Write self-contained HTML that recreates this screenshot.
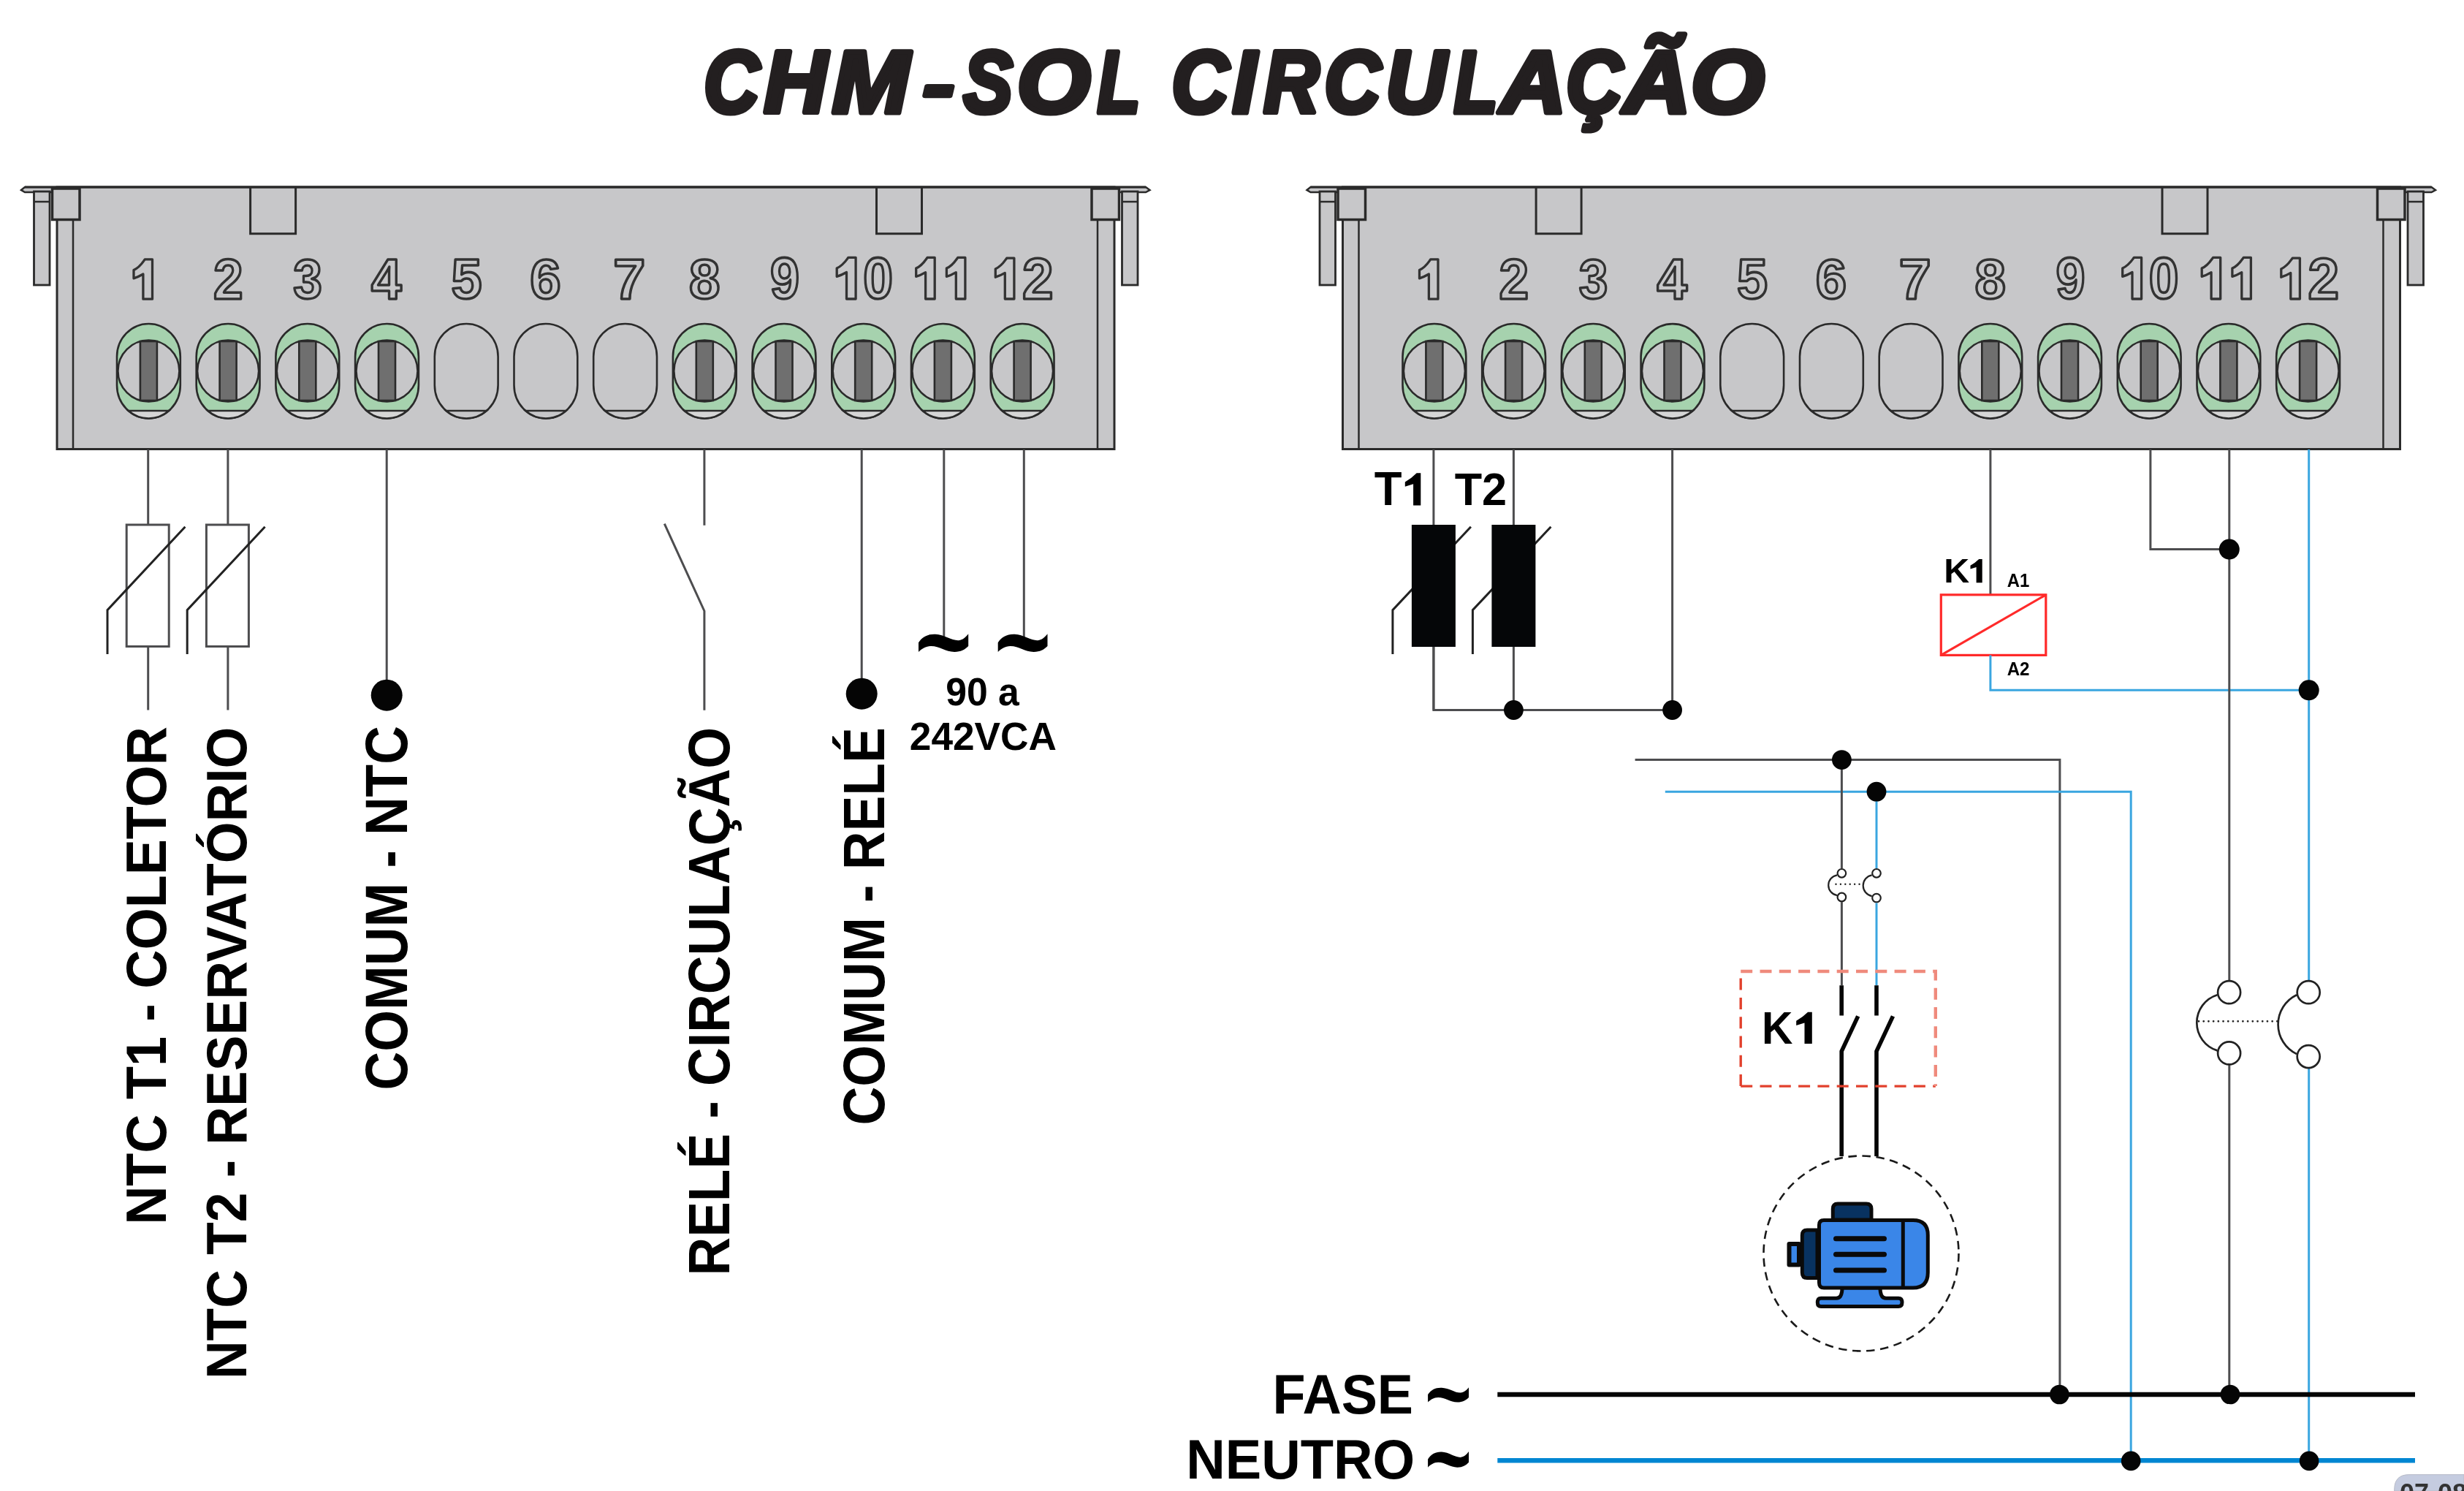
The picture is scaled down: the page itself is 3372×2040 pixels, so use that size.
<!DOCTYPE html>
<html><head><meta charset="utf-8"><style>
html,body{margin:0;padding:0;background:#fff;width:3372px;height:2040px;overflow:hidden}
svg{display:block;filter:blur(0.7px)}
</style></head><body>
<svg width="3372" height="2040" viewBox="0 0 3372 2040">
<rect width="3372" height="2040" fill="#fff"/>
<path d="M29,260 L34,256 L1568,256 L1573.5,260 L1568,263 L34,263 Z" fill="#c7c7c9" stroke="#2a2a2a" stroke-width="2.5"/>
<rect x="78" y="256" width="1447" height="358.5" fill="#c7c7c9" stroke="#2a2a2a" stroke-width="3"/>
<line x1="100" y1="300" x2="100" y2="614" stroke="#2a2a2a" stroke-width="2.5"/>
<line x1="1502" y1="300" x2="1502" y2="614" stroke="#2a2a2a" stroke-width="2.5"/>
<line x1="34" y1="256" x2="1568" y2="256" stroke="#2a2a2a" stroke-width="3"/>
<rect x="71.5" y="258" width="37.5" height="42.5" fill="#c7c7c9" stroke="#2a2a2a" stroke-width="3.5"/>
<rect x="1494" y="258" width="37.5" height="42.5" fill="#c7c7c9" stroke="#2a2a2a" stroke-width="3.5"/>
<rect x="46.5" y="262" width="21.5" height="128" fill="#c7c7c9" stroke="#2a2a2a" stroke-width="2.8"/>
<line x1="46.5" y1="276" x2="68" y2="276" stroke="#2a2a2a" stroke-width="2.5"/>
<rect x="1535.5" y="262" width="21.5" height="128" fill="#c7c7c9" stroke="#2a2a2a" stroke-width="2.8"/>
<line x1="1535.5" y1="276" x2="1557" y2="276" stroke="#2a2a2a" stroke-width="2.5"/>
<path d="M342.6,256 V319.8 H404.6 V256" fill="none" stroke="#2a2a2a" stroke-width="3"/>
<path d="M1199.5,256 V319.8 H1261.5 V256" fill="none" stroke="#2a2a2a" stroke-width="3"/>
<path d="M160.0,488 A43.4,45 0 0 1 246.8,488 V527 A43.4,45.5 0 0 1 160.0,527 Z" fill="#a6d2ae" stroke="#2a2a2a" stroke-width="2.6"/>
<circle cx="203.4" cy="507.5" r="42" fill="#c7c7c9" stroke="#2a2a2a" stroke-width="2.6"/>
<path d="M175.7,562 H231.1 A43.4,45.5 0 0 1 175.7,562 Z" fill="#d6d6d6" stroke="#2a2a2a" stroke-width="2.6"/>
<rect x="191.9" y="467" width="23" height="81" fill="#6f6f6f" stroke="#2a2a2a" stroke-width="2.6"/>
<path d="M268.7,488 A43.4,45 0 0 1 355.5,488 V527 A43.4,45.5 0 0 1 268.7,527 Z" fill="#a6d2ae" stroke="#2a2a2a" stroke-width="2.6"/>
<circle cx="312.1" cy="507.5" r="42" fill="#c7c7c9" stroke="#2a2a2a" stroke-width="2.6"/>
<path d="M284.4,562 H339.8 A43.4,45.5 0 0 1 284.4,562 Z" fill="#d6d6d6" stroke="#2a2a2a" stroke-width="2.6"/>
<rect x="300.6" y="467" width="23" height="81" fill="#6f6f6f" stroke="#2a2a2a" stroke-width="2.6"/>
<path d="M377.4,488 A43.4,45 0 0 1 464.2,488 V527 A43.4,45.5 0 0 1 377.4,527 Z" fill="#a6d2ae" stroke="#2a2a2a" stroke-width="2.6"/>
<circle cx="420.8" cy="507.5" r="42" fill="#c7c7c9" stroke="#2a2a2a" stroke-width="2.6"/>
<path d="M393.1,562 H448.5 A43.4,45.5 0 0 1 393.1,562 Z" fill="#d6d6d6" stroke="#2a2a2a" stroke-width="2.6"/>
<rect x="409.3" y="467" width="23" height="81" fill="#6f6f6f" stroke="#2a2a2a" stroke-width="2.6"/>
<path d="M486.1,488 A43.4,45 0 0 1 572.9,488 V527 A43.4,45.5 0 0 1 486.1,527 Z" fill="#a6d2ae" stroke="#2a2a2a" stroke-width="2.6"/>
<circle cx="529.5" cy="507.5" r="42" fill="#c7c7c9" stroke="#2a2a2a" stroke-width="2.6"/>
<path d="M501.8,562 H557.2 A43.4,45.5 0 0 1 501.8,562 Z" fill="#d6d6d6" stroke="#2a2a2a" stroke-width="2.6"/>
<rect x="518.0" y="467" width="23" height="81" fill="#6f6f6f" stroke="#2a2a2a" stroke-width="2.6"/>
<path d="M594.8,488 A43.4,45 0 0 1 681.6,488 V527 A43.4,45.5 0 0 1 594.8,527 Z" fill="#c7c7c9" stroke="#2a2a2a" stroke-width="2.6"/>
<path d="M610.5,562 H665.9 A43.4,45.5 0 0 1 610.5,562 Z" fill="#c7c7c9" stroke="#2a2a2a" stroke-width="2.6"/>
<path d="M703.5,488 A43.4,45 0 0 1 790.3,488 V527 A43.4,45.5 0 0 1 703.5,527 Z" fill="#c7c7c9" stroke="#2a2a2a" stroke-width="2.6"/>
<path d="M719.2,562 H774.6 A43.4,45.5 0 0 1 719.2,562 Z" fill="#c7c7c9" stroke="#2a2a2a" stroke-width="2.6"/>
<path d="M812.2,488 A43.4,45 0 0 1 899.0,488 V527 A43.4,45.5 0 0 1 812.2,527 Z" fill="#c7c7c9" stroke="#2a2a2a" stroke-width="2.6"/>
<path d="M827.9,562 H883.3 A43.4,45.5 0 0 1 827.9,562 Z" fill="#c7c7c9" stroke="#2a2a2a" stroke-width="2.6"/>
<path d="M920.9,488 A43.4,45 0 0 1 1007.7,488 V527 A43.4,45.5 0 0 1 920.9,527 Z" fill="#a6d2ae" stroke="#2a2a2a" stroke-width="2.6"/>
<circle cx="964.3" cy="507.5" r="42" fill="#c7c7c9" stroke="#2a2a2a" stroke-width="2.6"/>
<path d="M936.6,562 H992.0 A43.4,45.5 0 0 1 936.6,562 Z" fill="#d6d6d6" stroke="#2a2a2a" stroke-width="2.6"/>
<rect x="952.8" y="467" width="23" height="81" fill="#6f6f6f" stroke="#2a2a2a" stroke-width="2.6"/>
<path d="M1029.6,488 A43.4,45 0 0 1 1116.4,488 V527 A43.4,45.5 0 0 1 1029.6,527 Z" fill="#a6d2ae" stroke="#2a2a2a" stroke-width="2.6"/>
<circle cx="1073.0" cy="507.5" r="42" fill="#c7c7c9" stroke="#2a2a2a" stroke-width="2.6"/>
<path d="M1045.3,562 H1100.7 A43.4,45.5 0 0 1 1045.3,562 Z" fill="#d6d6d6" stroke="#2a2a2a" stroke-width="2.6"/>
<rect x="1061.5" y="467" width="23" height="81" fill="#6f6f6f" stroke="#2a2a2a" stroke-width="2.6"/>
<path d="M1138.3,488 A43.4,45 0 0 1 1225.1,488 V527 A43.4,45.5 0 0 1 1138.3,527 Z" fill="#a6d2ae" stroke="#2a2a2a" stroke-width="2.6"/>
<circle cx="1181.7" cy="507.5" r="42" fill="#c7c7c9" stroke="#2a2a2a" stroke-width="2.6"/>
<path d="M1154.0,562 H1209.4 A43.4,45.5 0 0 1 1154.0,562 Z" fill="#d6d6d6" stroke="#2a2a2a" stroke-width="2.6"/>
<rect x="1170.2" y="467" width="23" height="81" fill="#6f6f6f" stroke="#2a2a2a" stroke-width="2.6"/>
<path d="M1247.0,488 A43.4,45 0 0 1 1333.8,488 V527 A43.4,45.5 0 0 1 1247.0,527 Z" fill="#a6d2ae" stroke="#2a2a2a" stroke-width="2.6"/>
<circle cx="1290.4" cy="507.5" r="42" fill="#c7c7c9" stroke="#2a2a2a" stroke-width="2.6"/>
<path d="M1262.7,562 H1318.1 A43.4,45.5 0 0 1 1262.7,562 Z" fill="#d6d6d6" stroke="#2a2a2a" stroke-width="2.6"/>
<rect x="1278.9" y="467" width="23" height="81" fill="#6f6f6f" stroke="#2a2a2a" stroke-width="2.6"/>
<path d="M1355.7,488 A43.4,45 0 0 1 1442.5,488 V527 A43.4,45.5 0 0 1 1355.7,527 Z" fill="#a6d2ae" stroke="#2a2a2a" stroke-width="2.6"/>
<circle cx="1399.1" cy="507.5" r="42" fill="#c7c7c9" stroke="#2a2a2a" stroke-width="2.6"/>
<path d="M1371.4,562 H1426.8 A43.4,45.5 0 0 1 1371.4,562 Z" fill="#d6d6d6" stroke="#2a2a2a" stroke-width="2.6"/>
<rect x="1387.6" y="467" width="23" height="81" fill="#6f6f6f" stroke="#2a2a2a" stroke-width="2.6"/>
<path d="M208.5,354.8 L208.5,409.2 L195.9,409.2 L195.9,375.0 C191.6,377.5 187.7,379.5 183.0,380.8 L183.0,369.5 C191.7,365.5 194.8,359.5 198.3,354.8 Z" fill="#c7c7c9" stroke="#333" stroke-width="3.3" stroke-linejoin="round"/>
<text transform="translate(291.97,408.96) scale(0.7302,0.7703)" font-family='"Liberation Sans", sans-serif' font-weight="bold" font-size="100" fill="#c7c7c9" stroke="#333" stroke-width="4.6" stroke-linejoin="round">2</text>
<text transform="translate(401.30,408.34) scale(0.7111,0.7547)" font-family='"Liberation Sans", sans-serif' font-weight="bold" font-size="100" fill="#c7c7c9" stroke="#333" stroke-width="4.6" stroke-linejoin="round">3</text>
<text transform="translate(507.95,409.05) scale(0.7466,0.7753)" font-family='"Liberation Sans", sans-serif' font-weight="bold" font-size="100" fill="#c7c7c9" stroke="#333" stroke-width="4.6" stroke-linejoin="round">4</text>
<text transform="translate(617.44,408.47) scale(0.7556,0.7757)" font-family='"Liberation Sans", sans-serif' font-weight="bold" font-size="100" fill="#c7c7c9" stroke="#333" stroke-width="4.6" stroke-linejoin="round">5</text>
<text transform="translate(725.34,408.24) scale(0.7623,0.7533)" font-family='"Liberation Sans", sans-serif' font-weight="bold" font-size="100" fill="#c7c7c9" stroke="#333" stroke-width="4.6" stroke-linejoin="round">6</text>
<text transform="translate(839.32,408.86) scale(0.7904,0.7699)" font-family='"Liberation Sans", sans-serif' font-weight="bold" font-size="100" fill="#c7c7c9" stroke="#333" stroke-width="4.6" stroke-linejoin="round">7</text>
<text transform="translate(942.94,408.24) scale(0.7630,0.7533)" font-family='"Liberation Sans", sans-serif' font-weight="bold" font-size="100" fill="#c7c7c9" stroke="#333" stroke-width="4.6" stroke-linejoin="round">8</text>
<text transform="translate(1053.98,407.92) scale(0.7189,0.7947)" font-family='"Liberation Sans", sans-serif' font-weight="bold" font-size="100" fill="#c7c7c9" stroke="#333" stroke-width="4.6" stroke-linejoin="round">9</text>
<path d="M1171.1,352.3 L1171.1,409.0 L1158.5,409.0 L1158.5,372.5 C1154.2,375.0 1149.9,377.0 1145.2,378.3 L1145.2,367.0 C1153.9,363.0 1157.4,357.0 1160.9,352.3 Z" fill="#c7c7c9" stroke="#333" stroke-width="3.3" stroke-linejoin="round"/>
<text transform="translate(1181.13,407.92) scale(0.7327,0.7947)" font-family='"Liberation Sans", sans-serif' font-weight="bold" font-size="100" fill="#c7c7c9" stroke="#333" stroke-width="4.6" stroke-linejoin="round">0</text>
<path d="M1279.2,352.4 L1279.2,409.0 L1266.6,409.0 L1266.6,372.6 C1262.3,375.1 1258.4,377.1 1253.7,378.4 L1253.7,367.1 C1262.4,363.1 1265.5,357.1 1269.0,352.4 Z" fill="#c7c7c9" stroke="#333" stroke-width="3.3" stroke-linejoin="round"/>
<path d="M1320.9,352.4 L1320.9,409.0 L1308.3,409.0 L1308.3,372.6 C1304.0,375.1 1300.1,377.1 1295.4,378.4 L1295.4,367.1 C1304.1,363.1 1307.2,357.1 1310.7,352.4 Z" fill="#c7c7c9" stroke="#333" stroke-width="3.3" stroke-linejoin="round"/>
<path d="M1387.9,353.2 L1387.9,409.0 L1375.3,409.0 L1375.3,373.4 C1371.0,375.9 1367.0,377.9 1362.3,379.2 L1362.3,367.9 C1371.0,363.9 1374.2,357.9 1377.7,353.2 Z" fill="#c7c7c9" stroke="#333" stroke-width="3.3" stroke-linejoin="round"/>
<text transform="translate(1399.04,408.72) scale(0.7642,0.7892)" font-family='"Liberation Sans", sans-serif' font-weight="bold" font-size="100" fill="#c7c7c9" stroke="#333" stroke-width="4.6" stroke-linejoin="round">2</text>
<path d="M1788.5,260 L1793.5,256 L3327.5,256 L3333.0,260 L3327.5,263 L1793.5,263 Z" fill="#c7c7c9" stroke="#2a2a2a" stroke-width="2.5"/>
<rect x="1837.5" y="256" width="1447" height="358.5" fill="#c7c7c9" stroke="#2a2a2a" stroke-width="3"/>
<line x1="1859.5" y1="300" x2="1859.5" y2="614" stroke="#2a2a2a" stroke-width="2.5"/>
<line x1="3261.5" y1="300" x2="3261.5" y2="614" stroke="#2a2a2a" stroke-width="2.5"/>
<line x1="1793.5" y1="256" x2="3327.5" y2="256" stroke="#2a2a2a" stroke-width="3"/>
<rect x="1831.0" y="258" width="37.5" height="42.5" fill="#c7c7c9" stroke="#2a2a2a" stroke-width="3.5"/>
<rect x="3253.5" y="258" width="37.5" height="42.5" fill="#c7c7c9" stroke="#2a2a2a" stroke-width="3.5"/>
<rect x="1806.0" y="262" width="21.5" height="128" fill="#c7c7c9" stroke="#2a2a2a" stroke-width="2.8"/>
<line x1="1806.0" y1="276" x2="1827.5" y2="276" stroke="#2a2a2a" stroke-width="2.5"/>
<rect x="3295.0" y="262" width="21.5" height="128" fill="#c7c7c9" stroke="#2a2a2a" stroke-width="2.8"/>
<line x1="3295.0" y1="276" x2="3316.5" y2="276" stroke="#2a2a2a" stroke-width="2.5"/>
<path d="M2102.1,256 V319.8 H2164.1 V256" fill="none" stroke="#2a2a2a" stroke-width="3"/>
<path d="M2959.0,256 V319.8 H3021.0 V256" fill="none" stroke="#2a2a2a" stroke-width="3"/>
<path d="M1919.5,488 A43.4,45 0 0 1 2006.3,488 V527 A43.4,45.5 0 0 1 1919.5,527 Z" fill="#a6d2ae" stroke="#2a2a2a" stroke-width="2.6"/>
<circle cx="1962.9" cy="507.5" r="42" fill="#c7c7c9" stroke="#2a2a2a" stroke-width="2.6"/>
<path d="M1935.2,562 H1990.6 A43.4,45.5 0 0 1 1935.2,562 Z" fill="#d6d6d6" stroke="#2a2a2a" stroke-width="2.6"/>
<rect x="1951.4" y="467" width="23" height="81" fill="#6f6f6f" stroke="#2a2a2a" stroke-width="2.6"/>
<path d="M2028.2,488 A43.4,45 0 0 1 2115.0,488 V527 A43.4,45.5 0 0 1 2028.2,527 Z" fill="#a6d2ae" stroke="#2a2a2a" stroke-width="2.6"/>
<circle cx="2071.6" cy="507.5" r="42" fill="#c7c7c9" stroke="#2a2a2a" stroke-width="2.6"/>
<path d="M2043.9,562 H2099.3 A43.4,45.5 0 0 1 2043.9,562 Z" fill="#d6d6d6" stroke="#2a2a2a" stroke-width="2.6"/>
<rect x="2060.1" y="467" width="23" height="81" fill="#6f6f6f" stroke="#2a2a2a" stroke-width="2.6"/>
<path d="M2136.9,488 A43.4,45 0 0 1 2223.7,488 V527 A43.4,45.5 0 0 1 2136.9,527 Z" fill="#a6d2ae" stroke="#2a2a2a" stroke-width="2.6"/>
<circle cx="2180.3" cy="507.5" r="42" fill="#c7c7c9" stroke="#2a2a2a" stroke-width="2.6"/>
<path d="M2152.6,562 H2208.0 A43.4,45.5 0 0 1 2152.6,562 Z" fill="#d6d6d6" stroke="#2a2a2a" stroke-width="2.6"/>
<rect x="2168.8" y="467" width="23" height="81" fill="#6f6f6f" stroke="#2a2a2a" stroke-width="2.6"/>
<path d="M2245.6,488 A43.4,45 0 0 1 2332.4,488 V527 A43.4,45.5 0 0 1 2245.6,527 Z" fill="#a6d2ae" stroke="#2a2a2a" stroke-width="2.6"/>
<circle cx="2289.0" cy="507.5" r="42" fill="#c7c7c9" stroke="#2a2a2a" stroke-width="2.6"/>
<path d="M2261.3,562 H2316.7 A43.4,45.5 0 0 1 2261.3,562 Z" fill="#d6d6d6" stroke="#2a2a2a" stroke-width="2.6"/>
<rect x="2277.5" y="467" width="23" height="81" fill="#6f6f6f" stroke="#2a2a2a" stroke-width="2.6"/>
<path d="M2354.3,488 A43.4,45 0 0 1 2441.1,488 V527 A43.4,45.5 0 0 1 2354.3,527 Z" fill="#c7c7c9" stroke="#2a2a2a" stroke-width="2.6"/>
<path d="M2370.0,562 H2425.4 A43.4,45.5 0 0 1 2370.0,562 Z" fill="#c7c7c9" stroke="#2a2a2a" stroke-width="2.6"/>
<path d="M2463.0,488 A43.4,45 0 0 1 2549.8,488 V527 A43.4,45.5 0 0 1 2463.0,527 Z" fill="#c7c7c9" stroke="#2a2a2a" stroke-width="2.6"/>
<path d="M2478.7,562 H2534.1 A43.4,45.5 0 0 1 2478.7,562 Z" fill="#c7c7c9" stroke="#2a2a2a" stroke-width="2.6"/>
<path d="M2571.7,488 A43.4,45 0 0 1 2658.5,488 V527 A43.4,45.5 0 0 1 2571.7,527 Z" fill="#c7c7c9" stroke="#2a2a2a" stroke-width="2.6"/>
<path d="M2587.4,562 H2642.8 A43.4,45.5 0 0 1 2587.4,562 Z" fill="#c7c7c9" stroke="#2a2a2a" stroke-width="2.6"/>
<path d="M2680.4,488 A43.4,45 0 0 1 2767.2,488 V527 A43.4,45.5 0 0 1 2680.4,527 Z" fill="#a6d2ae" stroke="#2a2a2a" stroke-width="2.6"/>
<circle cx="2723.8" cy="507.5" r="42" fill="#c7c7c9" stroke="#2a2a2a" stroke-width="2.6"/>
<path d="M2696.1,562 H2751.5 A43.4,45.5 0 0 1 2696.1,562 Z" fill="#d6d6d6" stroke="#2a2a2a" stroke-width="2.6"/>
<rect x="2712.3" y="467" width="23" height="81" fill="#6f6f6f" stroke="#2a2a2a" stroke-width="2.6"/>
<path d="M2789.1,488 A43.4,45 0 0 1 2875.9,488 V527 A43.4,45.5 0 0 1 2789.1,527 Z" fill="#a6d2ae" stroke="#2a2a2a" stroke-width="2.6"/>
<circle cx="2832.5" cy="507.5" r="42" fill="#c7c7c9" stroke="#2a2a2a" stroke-width="2.6"/>
<path d="M2804.8,562 H2860.2 A43.4,45.5 0 0 1 2804.8,562 Z" fill="#d6d6d6" stroke="#2a2a2a" stroke-width="2.6"/>
<rect x="2821.0" y="467" width="23" height="81" fill="#6f6f6f" stroke="#2a2a2a" stroke-width="2.6"/>
<path d="M2897.8,488 A43.4,45 0 0 1 2984.6,488 V527 A43.4,45.5 0 0 1 2897.8,527 Z" fill="#a6d2ae" stroke="#2a2a2a" stroke-width="2.6"/>
<circle cx="2941.2" cy="507.5" r="42" fill="#c7c7c9" stroke="#2a2a2a" stroke-width="2.6"/>
<path d="M2913.5,562 H2968.9 A43.4,45.5 0 0 1 2913.5,562 Z" fill="#d6d6d6" stroke="#2a2a2a" stroke-width="2.6"/>
<rect x="2929.7" y="467" width="23" height="81" fill="#6f6f6f" stroke="#2a2a2a" stroke-width="2.6"/>
<path d="M3006.5,488 A43.4,45 0 0 1 3093.3,488 V527 A43.4,45.5 0 0 1 3006.5,527 Z" fill="#a6d2ae" stroke="#2a2a2a" stroke-width="2.6"/>
<circle cx="3049.9" cy="507.5" r="42" fill="#c7c7c9" stroke="#2a2a2a" stroke-width="2.6"/>
<path d="M3022.2,562 H3077.6 A43.4,45.5 0 0 1 3022.2,562 Z" fill="#d6d6d6" stroke="#2a2a2a" stroke-width="2.6"/>
<rect x="3038.4" y="467" width="23" height="81" fill="#6f6f6f" stroke="#2a2a2a" stroke-width="2.6"/>
<path d="M3115.2,488 A43.4,45 0 0 1 3202.0,488 V527 A43.4,45.5 0 0 1 3115.2,527 Z" fill="#a6d2ae" stroke="#2a2a2a" stroke-width="2.6"/>
<circle cx="3158.6" cy="507.5" r="42" fill="#c7c7c9" stroke="#2a2a2a" stroke-width="2.6"/>
<path d="M3130.9,562 H3186.3 A43.4,45.5 0 0 1 3130.9,562 Z" fill="#d6d6d6" stroke="#2a2a2a" stroke-width="2.6"/>
<rect x="3147.1" y="467" width="23" height="81" fill="#6f6f6f" stroke="#2a2a2a" stroke-width="2.6"/>
<path d="M1968.0,354.8 L1968.0,409.2 L1955.4,409.2 L1955.4,375.0 C1951.1,377.5 1947.2,379.5 1942.5,380.8 L1942.5,369.5 C1951.2,365.5 1954.3,359.5 1957.8,354.8 Z" fill="#c7c7c9" stroke="#333" stroke-width="3.3" stroke-linejoin="round"/>
<text transform="translate(2051.47,408.96) scale(0.7302,0.7703)" font-family='"Liberation Sans", sans-serif' font-weight="bold" font-size="100" fill="#c7c7c9" stroke="#333" stroke-width="4.6" stroke-linejoin="round">2</text>
<text transform="translate(2160.80,408.34) scale(0.7111,0.7547)" font-family='"Liberation Sans", sans-serif' font-weight="bold" font-size="100" fill="#c7c7c9" stroke="#333" stroke-width="4.6" stroke-linejoin="round">3</text>
<text transform="translate(2267.45,409.05) scale(0.7466,0.7753)" font-family='"Liberation Sans", sans-serif' font-weight="bold" font-size="100" fill="#c7c7c9" stroke="#333" stroke-width="4.6" stroke-linejoin="round">4</text>
<text transform="translate(2376.94,408.47) scale(0.7556,0.7757)" font-family='"Liberation Sans", sans-serif' font-weight="bold" font-size="100" fill="#c7c7c9" stroke="#333" stroke-width="4.6" stroke-linejoin="round">5</text>
<text transform="translate(2484.84,408.24) scale(0.7623,0.7533)" font-family='"Liberation Sans", sans-serif' font-weight="bold" font-size="100" fill="#c7c7c9" stroke="#333" stroke-width="4.6" stroke-linejoin="round">6</text>
<text transform="translate(2598.82,408.86) scale(0.7904,0.7699)" font-family='"Liberation Sans", sans-serif' font-weight="bold" font-size="100" fill="#c7c7c9" stroke="#333" stroke-width="4.6" stroke-linejoin="round">7</text>
<text transform="translate(2702.44,408.24) scale(0.7630,0.7533)" font-family='"Liberation Sans", sans-serif' font-weight="bold" font-size="100" fill="#c7c7c9" stroke="#333" stroke-width="4.6" stroke-linejoin="round">8</text>
<text transform="translate(2813.48,407.92) scale(0.7189,0.7947)" font-family='"Liberation Sans", sans-serif' font-weight="bold" font-size="100" fill="#c7c7c9" stroke="#333" stroke-width="4.6" stroke-linejoin="round">9</text>
<path d="M2930.6,352.3 L2930.6,409.0 L2918.0,409.0 L2918.0,372.5 C2913.7,375.0 2909.4,377.0 2904.7,378.3 L2904.7,367.0 C2913.4,363.0 2916.9,357.0 2920.4,352.3 Z" fill="#c7c7c9" stroke="#333" stroke-width="3.3" stroke-linejoin="round"/>
<text transform="translate(2940.63,407.92) scale(0.7327,0.7947)" font-family='"Liberation Sans", sans-serif' font-weight="bold" font-size="100" fill="#c7c7c9" stroke="#333" stroke-width="4.6" stroke-linejoin="round">0</text>
<path d="M3038.7,352.4 L3038.7,409.0 L3026.1,409.0 L3026.1,372.6 C3021.8,375.1 3017.9,377.1 3013.2,378.4 L3013.2,367.1 C3021.9,363.1 3025.0,357.1 3028.5,352.4 Z" fill="#c7c7c9" stroke="#333" stroke-width="3.3" stroke-linejoin="round"/>
<path d="M3080.4,352.4 L3080.4,409.0 L3067.8,409.0 L3067.8,372.6 C3063.5,375.1 3059.6,377.1 3054.9,378.4 L3054.9,367.1 C3063.6,363.1 3066.7,357.1 3070.2,352.4 Z" fill="#c7c7c9" stroke="#333" stroke-width="3.3" stroke-linejoin="round"/>
<path d="M3147.4,353.2 L3147.4,409.0 L3134.8,409.0 L3134.8,373.4 C3130.5,375.9 3126.5,377.9 3121.8,379.2 L3121.8,367.9 C3130.5,363.9 3133.7,357.9 3137.2,353.2 Z" fill="#c7c7c9" stroke="#333" stroke-width="3.3" stroke-linejoin="round"/>
<text transform="translate(3158.54,408.72) scale(0.7642,0.7892)" font-family='"Liberation Sans", sans-serif' font-weight="bold" font-size="100" fill="#c7c7c9" stroke="#333" stroke-width="4.6" stroke-linejoin="round">2</text>
<line x1="202.7" y1="615" x2="202.7" y2="718" stroke="#4d4d4f" stroke-width="3"/>
<rect x="173.2" y="718" width="58" height="166.5" fill="none" stroke="#4d4d4f" stroke-width="3"/>
<line x1="202.7" y1="884.5" x2="202.7" y2="971.5" stroke="#4d4d4f" stroke-width="3"/>
<path d="M147.0,895 V834.7 L253.39999999999998,720.7" fill="none" stroke="#222" stroke-width="3"/>
<line x1="311.9" y1="615" x2="311.9" y2="718" stroke="#4d4d4f" stroke-width="3"/>
<rect x="282.4" y="718" width="58" height="166.5" fill="none" stroke="#4d4d4f" stroke-width="3"/>
<line x1="311.9" y1="884.5" x2="311.9" y2="971.5" stroke="#4d4d4f" stroke-width="3"/>
<path d="M256.2,895 V834.7 L362.59999999999997,720.7" fill="none" stroke="#222" stroke-width="3"/>
<line x1="529.2" y1="615" x2="529.2" y2="951" stroke="#4d4d4f" stroke-width="3"/>

<line x1="963.9" y1="615" x2="963.9" y2="718.8" stroke="#4d4d4f" stroke-width="3"/>
<path d="M909.3,716.6 L963.9,836 V971.7" fill="none" stroke="#4d4d4f" stroke-width="3"/>
<line x1="1179.2" y1="615" x2="1179.2" y2="949" stroke="#4d4d4f" stroke-width="3"/>

<line x1="1291.8" y1="615" x2="1291.8" y2="872" stroke="#4d4d4f" stroke-width="3"/>
<line x1="1401.3" y1="615" x2="1401.3" y2="872" stroke="#4d4d4f" stroke-width="3"/>
<line x1="1961.9" y1="615" x2="1961.9" y2="718" stroke="#4d4d4f" stroke-width="3"/>
<path d="M1905.9,895 V834.7 L2012.9,720.7" fill="none" stroke="#222" stroke-width="3"/>
<rect x="1931.9" y="718" width="60" height="167" fill="#050608"/>
<line x1="1961.9" y1="885" x2="1961.9" y2="971.5" stroke="#4d4d4f" stroke-width="3"/>
<line x1="2071.4" y1="615" x2="2071.4" y2="718" stroke="#4d4d4f" stroke-width="3"/>
<path d="M2015.4,895 V834.7 L2122.4,720.7" fill="none" stroke="#222" stroke-width="3"/>
<rect x="2041.4" y="718" width="60" height="167" fill="#050608"/>
<line x1="2071.4" y1="885" x2="2071.4" y2="971.5" stroke="#4d4d4f" stroke-width="3"/>
<path d="M1961.9,885 V971.5 H2288.6" fill="none" stroke="#4d4d4f" stroke-width="3"/>
<line x1="2288.6" y1="615" x2="2288.6" y2="971.5" stroke="#4d4d4f" stroke-width="3"/>


<line x1="2723.9" y1="615" x2="2723.9" y2="814" stroke="#4d4d4f" stroke-width="3"/>
<rect x="2656.3" y="813.8" width="143.5" height="82.6" fill="none" stroke="#ff2a2a" stroke-width="3.2"/>
<line x1="2656.3" y1="896.4" x2="2799.8" y2="813.8" stroke="#ff2a2a" stroke-width="3.2"/>
<path d="M2723.9,896.4 V944.3 H3159.7" fill="none" stroke="#3aa6e0" stroke-width="3"/>
<path d="M2942.9,615 V751.6 H3050.8" fill="none" stroke="#4d4d4f" stroke-width="3"/>
<line x1="3050.8" y1="615" x2="3050.8" y2="1342" stroke="#4d4d4f" stroke-width="3"/>

<line x1="3159.7" y1="615" x2="3159.7" y2="1342" stroke="#3aa6e0" stroke-width="3"/>

<path d="M2237.6,1039.6 H2818.9 V1908" fill="none" stroke="#4d4d4f" stroke-width="3"/>
<path d="M2278.8,1083.2 H2916.2 V1998" fill="none" stroke="#3aa6e0" stroke-width="3"/>


<line x1="2520.4" y1="1039.6" x2="2520.4" y2="1188" stroke="#4d4d4f" stroke-width="3"/>
<line x1="2568" y1="1083.2" x2="2568" y2="1188" stroke="#3aa6e0" stroke-width="3"/>
<circle cx="2520.4" cy="1194.8" r="5.8" fill="#fff" stroke="#222" stroke-width="2.2"/>
<circle cx="2520.4" cy="1227.5" r="5.8" fill="#fff" stroke="#222" stroke-width="2.2"/>
<path d="M2514.1,1197.3 A14.01,14.01 0 0 0 2514.1,1225.0" fill="none" stroke="#222" stroke-width="2.2"/>
<circle cx="2568" cy="1194.8" r="5.8" fill="#fff" stroke="#222" stroke-width="2.2"/>
<circle cx="2568" cy="1228.6" r="5.8" fill="#fff" stroke="#222" stroke-width="2.2"/>
<path d="M2561.7,1197.3 A14.64,14.64 0 0 0 2561.7,1226.1" fill="none" stroke="#222" stroke-width="2.2"/>
<line x1="2512.5" y1="1209.7" x2="2547" y2="1209.7" stroke="#222" stroke-width="2.4" stroke-linecap="round" stroke-dasharray="0.01,6.4"/>
<line x1="2520.4" y1="1234" x2="2520.4" y2="1348" stroke="#4d4d4f" stroke-width="3"/>
<line x1="2568" y1="1235.5" x2="2568" y2="1348" stroke="#3aa6e0" stroke-width="3"/>
<line x1="2520.2" y1="1348.2" x2="2520.2" y2="1389.5" stroke="#050505" stroke-width="5.6"/>
<path d="M2542.7,1390.4 L2520.2,1438.3 V1582" fill="none" stroke="#050505" stroke-width="5.6"/>
<line x1="2568" y1="1348.2" x2="2568" y2="1389.5" stroke="#050505" stroke-width="5.6"/>
<path d="M2590.5,1390.4 L2568,1438.3 V1582" fill="none" stroke="#050505" stroke-width="5.6"/>
<path d="M2382.2,1486.1 V1328.4" fill="none" stroke="#e2402c" stroke-width="3.4" stroke-dasharray="16,10.3"/>
<path d="M2382.2,1486.1 H2648.8" fill="none" stroke="#e2402c" stroke-width="3.4" stroke-dasharray="16,10.3"/>
<path d="M2382.2,1329 H2648.8 V1486.1" fill="none" stroke="#ef8a7c" stroke-width="4.4" stroke-dasharray="16,10.3"/>
<circle cx="2547" cy="1715" r="133.5" fill="none" stroke="#1a1a1a" stroke-width="2.6" stroke-dasharray="11.5,7.6"/>
<path d="M2448.5,1702 H2462 V1730.5 H2448.5 Z" fill="#3a86e8" stroke="#0a0a0a" stroke-width="6" stroke-linejoin="round"/>
<path d="M2466.3,1690 Q2466.3,1682.9 2473,1682.9 H2487 V1748.5 H2473 Q2466.3,1748.5 2466.3,1741 Z" fill="#083260" stroke="#0a0a0a" stroke-width="5" stroke-linejoin="round"/>
<path d="M2508.3,1669 V1654 Q2508.3,1646.9 2515,1646.9 H2554 Q2561,1646.9 2561,1654 V1669 Z" fill="#083260" stroke="#0a0a0a" stroke-width="5" stroke-linejoin="round"/>
<path d="M2521,1762 Q2521,1776.3 2513,1776.3 H2492 Q2487.3,1776.3 2487.3,1781.9 Q2487.3,1787.4 2492,1787.4 H2598 Q2603,1787.4 2603,1781.9 Q2603,1776.3 2598,1776.3 H2581 Q2573,1776.3 2573,1762 Z" fill="#3a86e8" stroke="#0a0a0a" stroke-width="5" stroke-linejoin="round"/>
<path d="M2489.5,1676 Q2489.5,1669.6 2496,1669.6 H2618 Q2638.3,1669.6 2638.3,1690 V1741 Q2638.3,1762 2618,1762 H2496 Q2489.5,1762 2489.5,1755 Z" fill="#3a86e8" stroke="#0a0a0a" stroke-width="5" stroke-linejoin="round"/>
<line x1="2604.3" y1="1669.6" x2="2604.3" y2="1762" stroke="#0a0a0a" stroke-width="5"/>
<line x1="2512.5" y1="1694.8" x2="2578.5" y2="1694.8" stroke="#0a0a0a" stroke-width="7" stroke-linecap="round"/>
<line x1="2512.5" y1="1716.3" x2="2578.5" y2="1716.3" stroke="#0a0a0a" stroke-width="7" stroke-linecap="round"/>
<line x1="2512.5" y1="1737.9" x2="2578.5" y2="1737.9" stroke="#0a0a0a" stroke-width="7" stroke-linecap="round"/>
<line x1="3050.8" y1="1456.5" x2="3050.8" y2="1908" stroke="#4d4d4f" stroke-width="3"/>
<line x1="3159.7" y1="1461" x2="3159.7" y2="1998" stroke="#3aa6e0" stroke-width="3"/>
<circle cx="3050.6" cy="1357.7" r="15.5" fill="#fff" stroke="#222" stroke-width="2.7"/>
<circle cx="3050.6" cy="1440.9" r="15.5" fill="#fff" stroke="#222" stroke-width="2.7"/>
<path d="M3034.4,1361.2 A39.88,39.88 0 0 0 3034.4,1437.4" fill="none" stroke="#222" stroke-width="2.7"/>
<circle cx="3159.2" cy="1357.7" r="15.5" fill="#fff" stroke="#222" stroke-width="2.7"/>
<circle cx="3159.2" cy="1445.6" r="15.5" fill="#fff" stroke="#222" stroke-width="2.7"/>
<path d="M3143.0,1361.2 A44.91,44.91 0 0 0 3143.0,1442.1" fill="none" stroke="#222" stroke-width="2.7"/>
<line x1="3009" y1="1397.3" x2="3117" y2="1397.3" stroke="#222" stroke-width="2.8" stroke-linecap="round" stroke-dasharray="0.01,6.7"/>
<line x1="2049.3" y1="1908" x2="3305" y2="1908" stroke="#050505" stroke-width="6.5"/>
<line x1="2049.3" y1="1998.2" x2="3305" y2="1998.2" stroke="#0086d2" stroke-width="6.5"/>




<circle cx="529.2" cy="951.2" r="21.5" fill="#050505"/>
<circle cx="1179.2" cy="949.2" r="21.5" fill="#050505"/>
<circle cx="2071.4" cy="971.5" r="13.4" fill="#050505"/>
<circle cx="2288.6" cy="971.5" r="13.4" fill="#050505"/>
<circle cx="3050.8" cy="751.6" r="14" fill="#050505"/>
<circle cx="3159.7" cy="944.3" r="14" fill="#050505"/>
<circle cx="2520.4" cy="1039.6" r="13.4" fill="#050505"/>
<circle cx="2568" cy="1083.2" r="13.4" fill="#050505"/>
<circle cx="2818.4" cy="1908" r="13.3" fill="#050505"/>
<circle cx="3052" cy="1908" r="13.3" fill="#050505"/>
<circle cx="2916.2" cy="1998.9" r="13.3" fill="#050505"/>
<circle cx="3160.1" cy="1998.9" r="13.3" fill="#050505"/>
<text transform="translate(963.09,153.59) scale(1.0554,1.2027)" font-family='"Liberation Sans", sans-serif' font-weight="bold" font-style="italic" font-size="100" fill="#231f20" stroke="#231f20" stroke-width="6" stroke-linejoin="round">C</text>
<text transform="translate(1045.60,153.59) scale(1.1962,1.2027)" font-family='"Liberation Sans", sans-serif' font-weight="bold" font-style="italic" font-size="100" fill="#231f20" stroke="#231f20" stroke-width="6" stroke-linejoin="round">H</text>
<text transform="translate(1138.97,153.59) scale(1.2652,1.2027)" font-family='"Liberation Sans", sans-serif' font-weight="bold" font-style="italic" font-size="100" fill="#231f20" stroke="#231f20" stroke-width="6" stroke-linejoin="round">M</text>
<text transform="translate(1262.50,152.73) scale(1.3212,1.0722)" font-family='"Liberation Sans", sans-serif' font-weight="bold" font-style="italic" font-size="100" fill="#231f20" stroke="#231f20" stroke-width="6" stroke-linejoin="round">-</text>
<text transform="translate(1318.33,153.59) scale(1.0141,1.2027)" font-family='"Liberation Sans", sans-serif' font-weight="bold" font-style="italic" font-size="100" fill="#231f20" stroke="#231f20" stroke-width="6" stroke-linejoin="round">S</text>
<text transform="translate(1391.82,153.59) scale(1.2909,1.2027)" font-family='"Liberation Sans", sans-serif' font-weight="bold" font-style="italic" font-size="100" fill="#231f20" stroke="#231f20" stroke-width="6" stroke-linejoin="round">O</text>
<text transform="translate(1501.86,153.59) scale(0.9627,1.2027)" font-family='"Liberation Sans", sans-serif' font-weight="bold" font-style="italic" font-size="100" fill="#231f20" stroke="#231f20" stroke-width="6" stroke-linejoin="round">L</text>
<text transform="translate(1603.24,153.59) scale(1.0824,1.2027)" font-family='"Liberation Sans", sans-serif' font-weight="bold" font-style="italic" font-size="100" fill="#231f20" stroke="#231f20" stroke-width="6" stroke-linejoin="round">C</text>
<text transform="translate(1686.67,153.59) scale(1.1697,1.2027)" font-family='"Liberation Sans", sans-serif' font-weight="bold" font-style="italic" font-size="100" fill="#231f20" stroke="#231f20" stroke-width="6" stroke-linejoin="round">I</text>
<text transform="translate(1729.16,153.59) scale(1.0560,1.2027)" font-family='"Liberation Sans", sans-serif' font-weight="bold" font-style="italic" font-size="100" fill="#231f20" stroke="#231f20" stroke-width="6" stroke-linejoin="round">R</text>
<text transform="translate(1812.26,153.59) scale(1.0689,1.2027)" font-family='"Liberation Sans", sans-serif' font-weight="bold" font-style="italic" font-size="100" fill="#231f20" stroke="#231f20" stroke-width="6" stroke-linejoin="round">C</text>
<text transform="translate(1896.15,153.59) scale(1.1514,1.2027)" font-family='"Liberation Sans", sans-serif' font-weight="bold" font-style="italic" font-size="100" fill="#231f20" stroke="#231f20" stroke-width="6" stroke-linejoin="round">U</text>
<text transform="translate(1989.78,153.59) scale(0.9814,1.2027)" font-family='"Liberation Sans", sans-serif' font-weight="bold" font-style="italic" font-size="100" fill="#231f20" stroke="#231f20" stroke-width="6" stroke-linejoin="round">L</text>
<text transform="translate(2052.95,153.59) scale(1.2507,1.2027)" font-family='"Liberation Sans", sans-serif' font-weight="bold" font-style="italic" font-size="100" fill="#231f20" stroke="#231f20" stroke-width="6" stroke-linejoin="round">A</text>
<text transform="translate(2144.03,153.59) scale(1.0689,1.2027)" font-family='"Liberation Sans", sans-serif' font-weight="bold" font-style="italic" font-size="100" fill="#231f20" stroke="#231f20" stroke-width="6" stroke-linejoin="round">Ç</text>
<text transform="translate(2221.48,153.59) scale(1.2757,1.2027)" font-family='"Liberation Sans", sans-serif' font-weight="bold" font-style="italic" font-size="100" fill="#231f20" stroke="#231f20" stroke-width="6" stroke-linejoin="round">Ã</text>
<text transform="translate(2314.02,153.59) scale(1.2909,1.2027)" font-family='"Liberation Sans", sans-serif' font-weight="bold" font-style="italic" font-size="100" fill="#231f20" stroke="#231f20" stroke-width="6" stroke-linejoin="round">O</text>
<text transform="translate(226.50,1675.85) rotate(-90) scale(0.7363,0.7783)" font-family='"Liberation Sans", sans-serif' font-weight="bold" font-size="100" fill="#000">NTC T1 - COLETOR</text>
<text transform="translate(336.90,1887.11) rotate(-90) scale(0.7303,0.7768)" font-family='"Liberation Sans", sans-serif' font-weight="bold" font-size="100" fill="#000">NTC T2 - RESERVATÓRIO</text>
<text transform="translate(557.00,1491.42) rotate(-90) scale(0.7293,0.8087)" font-family='"Liberation Sans", sans-serif' font-weight="bold" font-size="100" fill="#000">COMUM - NTC</text>
<text transform="translate(997.90,1745.61) rotate(-90) scale(0.7304,0.7899)" font-family='"Liberation Sans", sans-serif' font-weight="bold" font-size="100" fill="#000">RELÉ - CIRCULAÇÃO</text>
<text transform="translate(1209.50,1539.42) rotate(-90) scale(0.7311,0.7971)" font-family='"Liberation Sans", sans-serif' font-weight="bold" font-size="100" fill="#000">COMUM - RELÉ</text>
<text transform="translate(1294.23,965.47) scale(0.5173,0.5282)" font-family='"Liberation Sans", sans-serif' font-weight="bold" font-style="normal" font-size="100" fill="#000" >90 a</text>
<text transform="translate(1244.80,1025.57) scale(0.5325,0.5338)" font-family='"Liberation Sans", sans-serif' font-weight="bold" font-style="normal" font-size="100" fill="#000" >242VCA</text>
<text transform="translate(1880.78,691.40) scale(0.6186,0.6406)" font-family='"Liberation Sans", sans-serif' font-weight="bold" font-style="normal" font-size="100" fill="#000" >T</text>
<path d="M1944.3,647.2 L1944.3,691.4 L1934.1,691.4 L1934.1,662.2 L1922.8,665.8 L1922.8,659.4 Q1931.3,654.7 1938.7,647.2 Z" fill="#000"/>
<text transform="translate(2660.31,797.20) scale(0.4844,0.4681)" font-family='"Liberation Sans", sans-serif' font-weight="bold" font-style="normal" font-size="100" fill="#000" >K</text>
<path d="M2712.7,764.9 L2712.7,797.2 L2704.6,797.2 L2704.6,775.9 L2696.5,778.5 L2696.5,773.8 Q2702.6,770.4 2708.2,764.9 Z" fill="#000"/>
<text transform="translate(2410.89,1427.90) scale(0.5875,0.6246)" font-family='"Liberation Sans", sans-serif' font-weight="bold" font-style="normal" font-size="100" fill="#000" >K</text>
<path d="M2479.8,1384.8 L2479.8,1427.9 L2469.5,1427.9 L2469.5,1399.5 L2458.2,1402.9 L2458.2,1396.7 Q2466.7,1392.1 2474.1,1384.8 Z" fill="#000"/>
<text transform="translate(1990.69,691.40) scale(0.6125,0.6314)" font-family='"Liberation Sans", sans-serif' font-weight="bold" font-style="normal" font-size="100" fill="#000" >T2</text>
<text transform="translate(2746.68,803.40) scale(0.2393,0.2609)" font-family='"Liberation Sans", sans-serif' font-weight="bold" font-style="normal" font-size="100" fill="#000" >A1</text>
<text transform="translate(2746.68,924.40) scale(0.2413,0.2486)" font-family='"Liberation Sans", sans-serif' font-weight="bold" font-style="normal" font-size="100" fill="#000" >A2</text>
<text transform="translate(1741.44,1933.75) scale(0.7376,0.7535)" font-family='"Liberation Sans", sans-serif' font-weight="bold" font-style="normal" font-size="100" fill="#000" >FASE</text>
<text transform="translate(1623.21,2023.44) scale(0.7411,0.7634)" font-family='"Liberation Sans", sans-serif' font-weight="bold" font-style="normal" font-size="100" fill="#000" >NEUTRO</text>
<path d="M1257.0,879.2 C1262.0,871.3 1270.0,867.3 1280.1,867.8 C1292.1,868.3 1302.1,876.2 1311.2,876.2 C1317.2,876.2 1322.2,871.3 1325.2,867.3 L1325.2,884.1 C1320.2,889.0 1315.2,892.0 1306.2,892.0 C1294.1,892.0 1286.1,884.1 1274.0,884.1 C1267.0,884.1 1261.0,888.0 1257.0,892.0 Z" fill="#000"/>
<path d="M1365.7,879.2 C1370.7,871.3 1378.6,867.3 1388.6,867.8 C1400.6,868.3 1410.6,876.2 1419.5,876.2 C1425.5,876.2 1430.5,871.3 1433.5,867.3 L1433.5,884.1 C1428.5,889.0 1423.5,892.0 1414.6,892.0 C1402.6,892.0 1394.6,884.1 1382.7,884.1 C1375.7,884.1 1369.7,888.0 1365.7,892.0 Z" fill="#000"/>
<path d="M1954.1,1908.0 C1958.2,1901.5 1964.7,1898.3 1973.0,1898.7 C1982.9,1899.1 1991.1,1905.6 1998.5,1905.6 C2003.4,1905.6 2007.5,1901.5 2010.0,1898.3 L2010.0,1912.0 C2005.9,1916.1 2001.8,1918.5 1994.4,1918.5 C1984.5,1918.5 1977.9,1912.0 1968.1,1912.0 C1962.3,1912.0 1957.4,1915.3 1954.1,1918.5 Z" fill="#000"/>
<path d="M1954.1,1996.5 C1958.2,1989.6 1964.7,1986.1 1973.0,1986.5 C1982.9,1987.0 1991.1,1993.9 1998.5,1993.9 C2003.4,1993.9 2007.5,1989.6 2010.0,1986.1 L2010.0,2000.8 C2005.9,2005.1 2001.8,2007.7 1994.4,2007.7 C1984.5,2007.7 1977.9,2000.8 1968.1,2000.8 C1962.3,2000.8 1957.4,2004.2 1954.1,2007.7 Z" fill="#000"/>
<path d="M3276.7,2040 V2038 Q3276.7,2017.6 3297,2017.6 H3372 V2040 Z" fill="#c5cce0" stroke="#b8bcc8" stroke-width="1"/>
<text x="3284" y="2056" font-family='"Liberation Sans", sans-serif' font-weight="bold" font-size="36" fill="#333">07-08</text>
</svg>
</body></html>
